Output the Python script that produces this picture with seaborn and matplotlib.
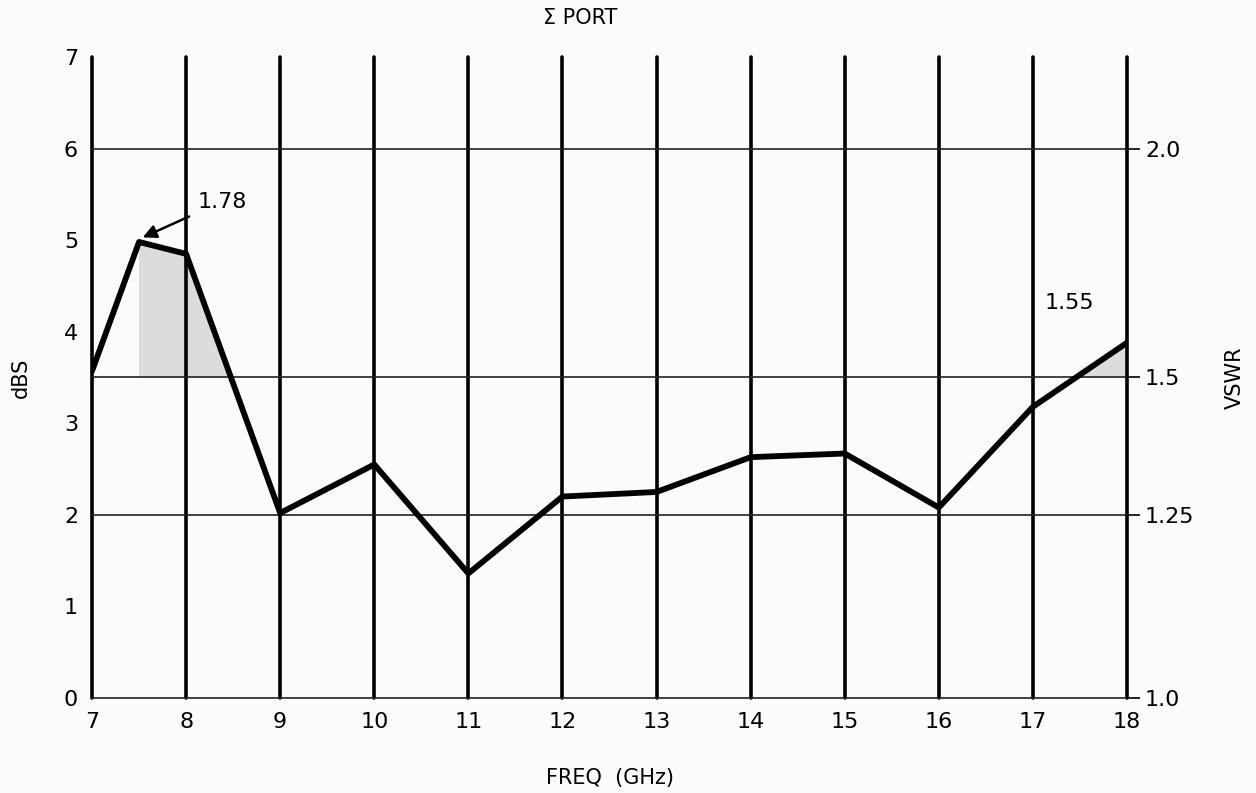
import matplotlib
matplotlib.use("Agg")
import matplotlib.pyplot as plt
import seaborn as sns
import numpy as np
import pandas as pd

# ---- data ----
freq_ghz = [7, 7.5, 8, 9, 10, 11, 12, 13, 14, 15, 16, 17, 18]
dbs = [3.57, 4.98, 4.85, 2.02, 2.55, 1.36, 2.2, 2.25, 2.63, 2.67, 2.08, 3.18, 3.88]
x_ticks = [7, 8, 9, 10, 11, 12, 13, 14, 15, 16, 17, 18]
y_ticks = [0, 1, 2, 3, 4, 5, 6, 7]
vswr_pos = [6, 3.5, 2, 0]
vswr_labels = ["2.0", "1.5", "1.25", "1.0"]
limit_db = 3.5
shade_start = 7.5
peak_label = "1.78"
end_label = "1.55"

sns.set_theme(style="white")
plt.rcParams['font.family'] = ['DejaVu Sans']

fig = plt.figure(figsize=(12.56, 7.93), dpi=100)
ax = fig.add_axes([92/1256, 1-698/793, (1127-92)/1256, (698-57)/793])
fig.patch.set_facecolor("#fbfbfb")
ax.set_facecolor("#fbfbfb")

df = pd.DataFrame({"freq": freq_ghz, "dbs": dbs})

# shaded areas above the 1.5 VSWR limit (from the peak onward)
x = np.array(freq_ghz, dtype=float)
y = np.array(dbs, dtype=float)
xs = np.linspace(shade_start, x.max(), 4000)
ys = np.interp(xs, x, y)
ax.fill_between(xs, limit_db, ys, where=(ys >= limit_db), color="#dcdcdc",
                linewidth=0, zorder=1)

# vertical grid lines
for xv in x_ticks:
    ax.axvline(xv, color="black", lw=2.6, zorder=2, clip_on=False)
# horizontal lines at VSWR levels
for yv in vswr_pos:
    ax.axhline(yv, color="#222222", lw=1.2, zorder=2, clip_on=False)

sns.lineplot(data=df, x="freq", y="dbs", ax=ax, color="black", lw=4.2,
             zorder=4, legend=False)

ax.set_xlim(7, 18)
ax.set_ylim(0, 7)
ax.set_xticks(x_ticks)
ax.set_xticklabels([str(v) for v in x_ticks])
ax.set_yticks(y_ticks)
ax.set_yticklabels([str(v) for v in y_ticks])
ax.tick_params(axis="both", length=0, labelsize=16, colors="black")
ax.tick_params(axis="x", pad=10)
ax.tick_params(axis="y", pad=10)
for s in ["top", "right", "bottom", "left"]:
    ax.spines[s].set_visible(False)

ax.set_xlabel("FREQ  (GHz)", fontsize=15, labelpad=26, color="black")
ax.set_ylabel("dBS", fontsize=15, labelpad=24, color="black")

# right VSWR axis
ax2 = ax.twinx()
ax2.set_ylim(0, 7)
ax2.set_yticks(vswr_pos)
ax2.set_yticklabels(vswr_labels)
ax2.tick_params(axis="y", length=9, width=1.2, labelsize=16, pad=4, colors="black")
for s in ["top", "right", "bottom", "left"]:
    ax2.spines[s].set_visible(False)
ax2.set_ylabel("VSWR", fontsize=15, labelpad=22, color="black")
ax2.grid(False)

# annotations
ax.annotate(peak_label, xy=(7.54, 5.03), xytext=(8.12, 5.42),
            fontsize=16, color="black", va="center", ha="left",
            arrowprops=dict(arrowstyle="-|>", color="black", lw=1.8,
                            shrinkA=4, shrinkB=0, mutation_scale=20),
            zorder=5)
ax.text(17.39, 4.31, end_label, fontsize=16, color="black",
        ha="center", va="center", zorder=5)

fig.text(580/1256, 1-18/793, "Σ PORT", fontsize=15, ha="center", va="center",
         color="black")

fig.savefig("out.png", dpi=100, facecolor=fig.get_facecolor())
